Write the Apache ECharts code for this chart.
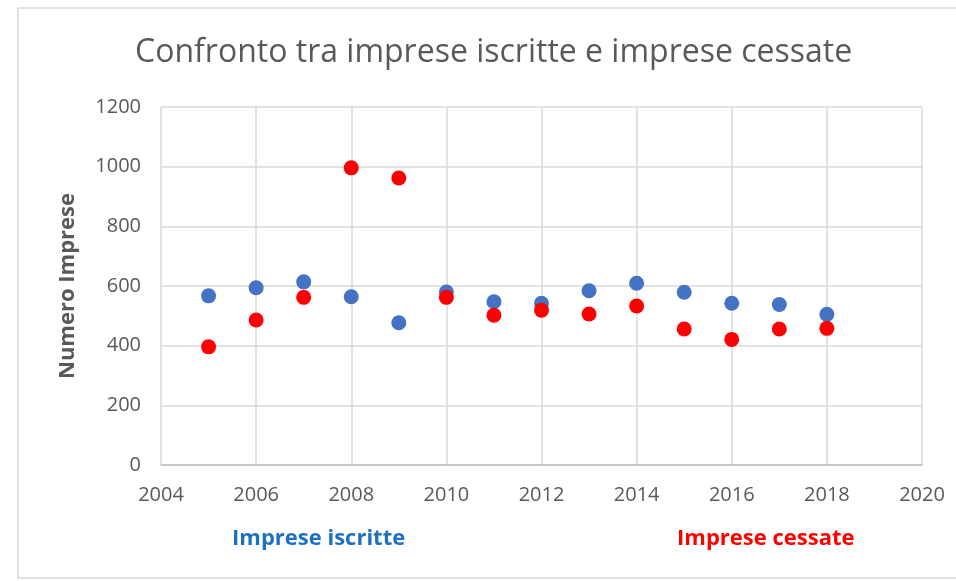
<!DOCTYPE html>
<html>
<head>
<meta charset="utf-8">
<script src="https://cdn.jsdelivr.net/npm/echarts@6/dist/echarts.min.js"></script>
<style>
  html, body { margin: 0; padding: 0; background: #fff; }
  #chart { width: 956px; height: 581px; }
</style>
</head>
<body>
<div id="chart"></div>
<script>
// anni e valori
const years = [2005, 2006, 2007, 2008, 2009, 2010, 2011, 2012, 2013, 2014, 2015, 2016, 2017, 2018];
const iscritte = [567, 594, 614, 564, 477, 580, 547, 542, 584, 609, 579, 542, 538, 505];
const cessate = [396, 486, 562, 996, 962, 562, 502, 519, 506, 533, 456, 421, 456, 458];

const font = '"Open Sans", "Noto Sans", sans-serif';
const gray = '#595959';

const chart = echarts.init(document.getElementById('chart'));

const option = {
  animation: false,
  backgroundColor: '#fff',
  textStyle: { fontFamily: font },
  title: {
    text: 'Confronto tra imprese iscritte e imprese cessate',
    left: 130,
    top: 32,
    textStyle: { fontFamily: font, fontSize: 32, fontWeight: 'normal', color: gray }
  },
  // due legende separate, solo testo
  legend: [
    {
      data: ['Imprese iscritte'],
      left: 222, top: 523,
      icon: 'none', itemWidth: 0, itemGap: 0,
      textStyle: { fontFamily: font, fontSize: 22, fontWeight: 'bold', color: '#1f70c1' }
    },
    {
      data: ['Imprese cessate'],
      left: 667, top: 523,
      icon: 'none', itemWidth: 0, itemGap: 0,
      textStyle: { fontFamily: font, fontSize: 22, fontWeight: 'bold', color: '#ff0000' }
    }
  ],
  grid: { left: 161, right: 34, top: 107, bottom: 116 },
  xAxis: {
    type: 'value',
    min: 2004, max: 2020, interval: 2,
    axisLine: { show: true, lineStyle: { color: '#bfbfbf', width: 1.5 } },
    axisTick: { show: false },
    axisLabel: { color: gray, fontSize: 20, margin: 20, fontFamily: font, formatter: v => String(v) },
    splitLine: { show: true, lineStyle: { color: '#d9d9d9', width: 1.5 } }
  },
  yAxis: {
    type: 'value',
    min: 0, max: 1200, interval: 200,
    name: 'Numero Imprese',
    nameLocation: 'middle',
    nameGap: 82,
    nameTextStyle: { color: gray, fontSize: 22, fontWeight: 'bold', fontFamily: font },
    axisLine: { show: false },
    axisTick: { show: false },
    axisLabel: { color: gray, fontSize: 20, margin: 20, fontFamily: font, formatter: v => String(v) },
    splitLine: { show: true, lineStyle: { color: '#d9d9d9', width: 1.5 } }
  },
  graphic: [
    {
      type: 'rect',
      shape: { x: 18, y: 8, width: 960, height: 570 },
      style: { fill: 'none', stroke: '#d9d9d9', lineWidth: 1.5 },
      silent: true
    }
  ],
  series: [
    {
      name: 'Imprese iscritte',
      type: 'scatter',
      symbolSize: 15,
      itemStyle: { color: '#4472c4', opacity: 1 },
      data: years.map((y, i) => [y, iscritte[i]])
    },
    {
      name: 'Imprese cessate',
      type: 'scatter',
      symbolSize: 15,
      itemStyle: { color: '#ff0000', opacity: 1 },
      data: years.map((y, i) => [y, cessate[i]])
    }
  ]
};

chart.setOption(option);
</script>
</body>
</html>
